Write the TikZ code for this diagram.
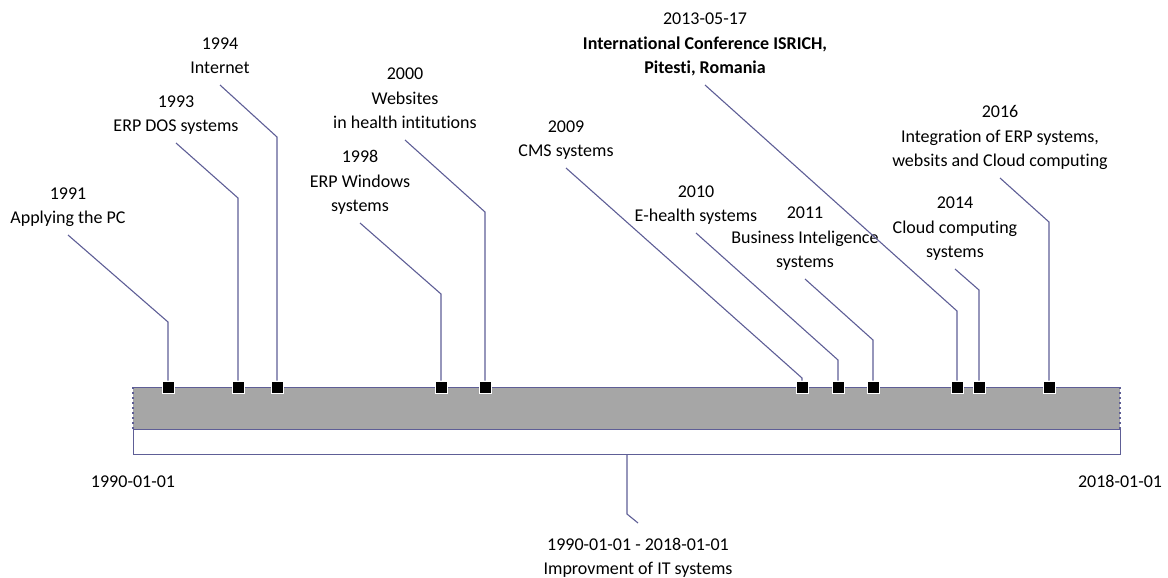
\documentclass[tikz,border=0pt]{standalone}
\usepackage{fontspec}
\setmainfont{Carlito}[Ligatures={NoCommon}]
\usepackage{tikz}
\usetikzlibrary{calc}
\usepackage{xcolor}
\definecolor{linecol}{RGB}{94,94,150}
\definecolor{barfill}{RGB}{166,166,166}
\newcommand{\tailgap}{\rule[-11pt]{0pt}{11pt}}
\newcommand{\headgap}{\rule{0pt}{27pt}}

\begin{document}
\begin{tikzpicture}[x=1pt, y=-1pt,
    lbl/.style={align=center, inner sep=0pt, anchor=south, font=\fontsize{18}{24.5}\selectfont},
    marker/.style={rectangle, fill=black, draw=white, line width=0.8pt, minimum size=12pt, inner sep=0pt},
    leader/.style={draw=linecol, line width=1.1pt}]
    \useasboundingbox (0,0) rectangle (1168,578);

    % Time bar
    \fill[barfill] (133,387) rectangle (1120,429);
    \draw[linecol, line width=1pt] (133,387) -- (1120,387);
    \draw[linecol, line width=1.5pt, dash pattern=on 2pt off 3pt] (133,387) -- (133,429) (1120,387) -- (1120,429);
    \node[draw=linecol, line width=1pt, fill=white, minimum width=987pt, minimum height=25pt, inner sep=0pt, anchor=north west] (span) at (133,429) {};

    % Milestones
    \foreach \id/\mx/\ky/\lx/\ly/\txt in {
        1991/168/322/68/235/{1991\\Applying the PC},
        1993/238/198/176/143/{1993\\ERP DOS systems},
        1994/277/137/220/85/{1994\\Internet},
        1998/441/294/360/223/{1998\\ERP Windows\\systems},
        2000/485/212/405/140/{2000\\Websites\\in health intitutions},
        2009/802/378/566/168/{2009\\CMS systems},
        2010/838/360/696/233/{2010\\E-health systems},
        2011/873/340/805/279/{2011\\Business Inteligence\\systems},
        2013/957/311/705/85/{2013-05-17\\\textbf{International Conference ISRICH,}\\\textbf{Pitesti, Romania}},
        2014/979/290/955/269/{2014\\Cloud computing\\systems},
        2016/1049/222/1000/178/{2016\\Integration of ERP systems,\\websits and Cloud computing}} {
        \node[marker] (m\id) at (\mx,387) {};
        \node[lbl] (l\id) at (\lx,\ly) {\txt\tailgap};
        \coordinate (k\id) at (\mx,\ky);
        \draw[leader] (l\id.south) -- (k\id) -- (m\id.north);
    }

    % Range ends
    \node[lbl, anchor=base] (start) at (133,487) {1990-01-01};
    \node[lbl, anchor=base] (end) at (1120,487) {2018-01-01};

    % Period label
    \node[lbl, anchor=north] (lspan) at (638,523) {\headgap 1990-01-01 - 2018-01-01\\Improvment of IT systems};
    \coordinate (kspan) at (627,514);
    \draw[leader] (span.south -| kspan) -- (kspan) -- (lspan.north);

\end{tikzpicture}
\end{document}
